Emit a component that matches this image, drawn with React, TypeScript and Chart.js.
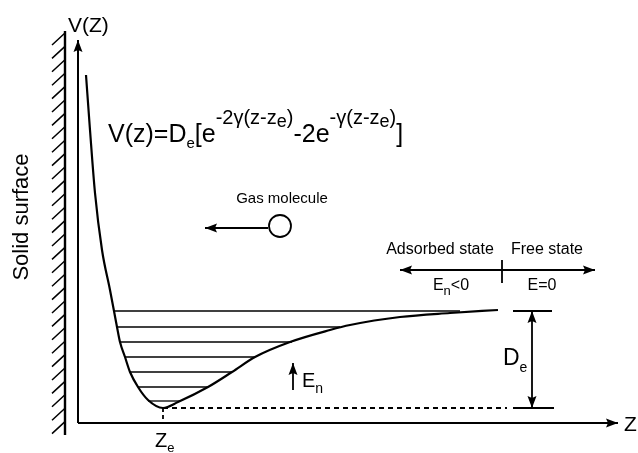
import React, { useEffect, useRef } from "react";
import { Chart, registerables } from "chart.js";

Chart.register(...registerables);

// Diagram units: z grows to the right of the V axis, V grows upward from the Z axis.
const curveZ = [8, 12, 17, 24, 32, 36, 39, 42, 47, 52, 60, 70, 85, 100, 130, 154, 177, 212, 252, 272, 322, 372, 420];
const curveV = [348, 293, 230, 173, 133, 112, 96, 81, 66, 51, 36, 23, 15, 21, 36, 51, 66, 81, 93, 98, 106, 110, 113];

const levelV = [112, 96, 81, 66, 51, 36, 22];
const levelLeftZ = [36, 39, 42, 47, 52, 60, 70];
const levelRightZ = [382, 262, 214, 177, 154, 130, 102];

const zEq = 85;
const vMinimum = 15;
const vFree = 112;
const zAxisEnd = 540;
const vAxisEnd = 383;
const dashedEndZ = 429;
const capStartZ = 435;
const capEndZ = [474, 476];
const deArrowZ = 454;
const stateArrowZ = [322, 517];
const stateArrowV = 153;
const stateTickZ = 424;
const stateTickV = [163, 140];
const gasArrowZ = [190, 127];
const gasArrowV = 195;
const moleculeZ = 202;
const moleculeV = 197;
const enArrowZ = 215;
const enArrowV = [33, 60];
const wallZ = -13;
const wallV = [392, -12];

const FONT = '"Liberation Sans", Arial, Helvetica, sans-serif';

type Part = { t: string; size: number; dy: number };
type Label = { x: number; y: number; parts: Part[]; align: "left" | "center"; rotate?: boolean };

const P = (t: string, size: number, dy = 0): Part => ({ t, size, dy });

const labels: Label[] = [
  { x: -10, y: 391, align: "left", parts: [P("V(Z)", 21)] },
  {
    x: 30, y: 281, align: "left",
    parts: [
      P("V(z)=D", 25), P("e", 15, 6), P("[e", 25), P("-2\u03b3(z-z", 20, -18), P("e", 18, -15), P(")", 20, -18),
      P("-2e", 25), P("-\u03b3(z-z", 20, -18), P("e", 18, -15), P(")", 20, -18), P("]", 25),
    ],
  },
  { x: 204, y: 220, align: "center", parts: [P("Gas molecule", 15)] },
  { x: 362, y: 169, align: "center", parts: [P("Adsorbed state", 16)] },
  { x: 469, y: 169, align: "center", parts: [P("Free state", 16)] },
  { x: 373, y: 133, align: "center", parts: [P("E", 16), P("n", 13, 5), P("<0", 16)] },
  { x: 464, y: 133, align: "center", parts: [P("E=0", 16)] },
  { x: 425, y: 58, align: "left", parts: [P("D", 23), P("e", 14, 7)] },
  { x: 224, y: 36, align: "left", parts: [P("E", 20), P("n", 14, 6)] },
  { x: 546, y: -8, align: "left", parts: [P("Z", 21)] },
  { x: 77, y: -24, align: "left", parts: [P("Z", 20), P("e", 13, 5)] },
  { x: -56, y: 206, align: "center", rotate: true, parts: [P("Solid surface", 22)] },
];

const arrows: { label: string; ends: ("start" | "end")[] }[] = [
  { label: "vAxis", ends: ["end"] },
  { label: "zAxis", ends: ["end"] },
  { label: "deArrow", ends: ["start", "end"] },
  { label: "stateArrow", ends: ["start", "end"] },
  { label: "gasArrow", ends: ["end"] },
  { label: "enArrow", ends: ["end"] },
];

function seg(label: string, xs: number[], ys: number[], extra: any = {}) {
  return {
    label,
    data: xs.map((x, i) => ({ x, y: ys[i] })),
    showLine: true,
    borderColor: "#000",
    backgroundColor: "#000",
    borderWidth: 1.2,
    pointRadius: 0,
    pointHoverRadius: 0,
    fill: false,
    tension: 0,
    clip: false,
    ...extra,
  };
}

const diagramPlugin = {
  id: "diagram",
  beforeDraw(chart: any) {
    const ctx = chart.ctx;
    ctx.save();
    ctx.fillStyle = "#fff";
    ctx.fillRect(0, 0, chart.width, chart.height);
    ctx.restore();
  },
  afterDatasetsDraw(chart: any) {
    const ctx = chart.ctx;
    const xs = chart.scales.x;
    const ys = chart.scales.y;
    ctx.save();
    // wall with hatching
    const wx = xs.getPixelForValue(wallZ);
    const wTop = ys.getPixelForValue(wallV[0]);
    const wBot = ys.getPixelForValue(wallV[1]);
    ctx.strokeStyle = "#000";
    ctx.lineWidth = 2.4;
    ctx.beginPath();
    ctx.moveTo(wx, wTop);
    ctx.lineTo(wx, wBot);
    ctx.stroke();
    ctx.lineWidth = 1.5;
    const hx = xs.getPixelForValue(wallZ - 13) - wx;
    const hy = ys.getPixelForValue(0) - ys.getPixelForValue(12);
    const step = ys.getPixelForValue(0) - ys.getPixelForValue(13.4);
    ctx.beginPath();
    for (let y = wTop + 2; y <= wBot - 2; y += step) {
      ctx.moveTo(wx, y);
      ctx.lineTo(wx + hx, y + hy);
    }
    ctx.stroke();

    // arrow heads
    chart.data.datasets.forEach((ds: any, i: number) => {
      const spec = arrows.find((a) => a.label === ds.label);
      if (!spec) return;
      const pts = chart.getDatasetMeta(i).data;
      spec.ends.forEach((e) => {
        const tip = e === "end" ? pts[pts.length - 1] : pts[0];
        const prev = e === "end" ? pts[pts.length - 2] : pts[1];
        const ang = Math.atan2(tip.y - prev.y, tip.x - prev.x);
        const L = 12, W = 4.5;
        ctx.save();
        ctx.translate(tip.x, tip.y);
        ctx.rotate(ang);
        ctx.fillStyle = "#000";
        ctx.beginPath();
        ctx.moveTo(0, 0);
        ctx.lineTo(-L, -W);
        ctx.lineTo(-L + 2, 0);
        ctx.lineTo(-L, W);
        ctx.closePath();
        ctx.fill();
        ctx.restore();
      });
    });

    // text
    ctx.fillStyle = "#000";
    labels.forEach((lb) => {
      const px = xs.getPixelForValue(lb.x);
      const py = ys.getPixelForValue(lb.y);
      const widths = lb.parts.map((p) => {
        ctx.font = `${p.size}px ${FONT}`;
        return ctx.measureText(p.t).width;
      });
      const total = widths.reduce((a, b) => a + b, 0);
      ctx.save();
      ctx.translate(px, py);
      if (lb.rotate) {
        ctx.rotate(-Math.PI / 2);
        ctx.textBaseline = "middle";
      } else {
        ctx.textBaseline = "alphabetic";
      }
      ctx.textAlign = "left";
      let cx = lb.align === "center" ? -total / 2 : 0;
      lb.parts.forEach((p, k) => {
        ctx.font = `${p.size}px ${FONT}`;
        ctx.fillText(p.t, cx, p.dy);
        cx += widths[k];
      });
      ctx.restore();
    });
    ctx.restore();
  },
};

export default function App() {
  const ref = useRef<HTMLCanvasElement | null>(null);
  useEffect(() => {
    if (!ref.current) return;
    const datasets: any[] = [];
    datasets.push(seg("zAxis", [0, zAxisEnd], [0, 0], { borderWidth: 2 }));
    datasets.push(seg("vAxis", [0, 0], [0, vAxisEnd], { borderWidth: 2 }));
    levelV.forEach((v, i) => {
      datasets.push(seg("level" + i, [levelLeftZ[i], levelRightZ[i]], [v, v], { borderWidth: 1.3 }));
    });
    datasets.push(seg("baseline", [zEq, dashedEndZ], [vMinimum, vMinimum], { borderWidth: 1.8, borderDash: [5, 4] }));
    datasets.push(seg("zeDrop", [zEq, zEq], [vMinimum, 0], { borderWidth: 1.8, borderDash: [4, 3] }));
    datasets.push(seg("capTop", [capStartZ, capEndZ[0]], [vFree, vFree], { borderWidth: 1.8 }));
    datasets.push(seg("capBottom", [capStartZ, capEndZ[1]], [vMinimum, vMinimum], { borderWidth: 1.8 }));
    datasets.push(seg("deArrow", [deArrowZ, deArrowZ], [vFree, vMinimum], { borderWidth: 1.8 }));
    datasets.push(seg("stateArrow", stateArrowZ, [stateArrowV, stateArrowV], { borderWidth: 1.8 }));
    datasets.push(seg("stateTick", [stateTickZ, stateTickZ], stateTickV, { borderWidth: 1.8 }));
    datasets.push(seg("gasArrow", gasArrowZ, [gasArrowV, gasArrowV], { borderWidth: 1.8 }));
    datasets.push(seg("enArrow", [enArrowZ, enArrowZ], enArrowV, { borderWidth: 1.8 }));
    datasets.push(seg("curve", curveZ, curveV, { borderWidth: 2.2, cubicInterpolationMode: "monotone" }));
    datasets.push({
      label: "molecule",
      data: [{ x: moleculeZ, y: moleculeV }],
      showLine: false,
      pointRadius: 11,
      pointHoverRadius: 11,
      pointBackgroundColor: "#fff",
      pointBorderColor: "#000",
      pointBorderWidth: 1.8,
      clip: false,
    });

    const chart = new Chart(ref.current, {
      type: "scatter",
      data: { datasets },
      options: {
        responsive: false,
        animation: false,
        devicePixelRatio: 1,
        layout: { padding: 0, autoPadding: false },
        events: [],
        plugins: { legend: { display: false }, tooltip: { enabled: false } },
        scales: {
          x: { type: "linear", min: -78, max: 560, display: false },
          y: { type: "linear", min: -30, max: 423, display: false },
        },
      },
      plugins: [diagramPlugin],
    } as any);
    return () => chart.destroy();
  }, []);

  return (
    <div style={{ position: "fixed", left: 0, top: 0, width: 638, height: 453, background: "#fff" }}>
      <canvas ref={ref} width={638} height={453} style={{ display: "block" }} />
    </div>
  );
}
